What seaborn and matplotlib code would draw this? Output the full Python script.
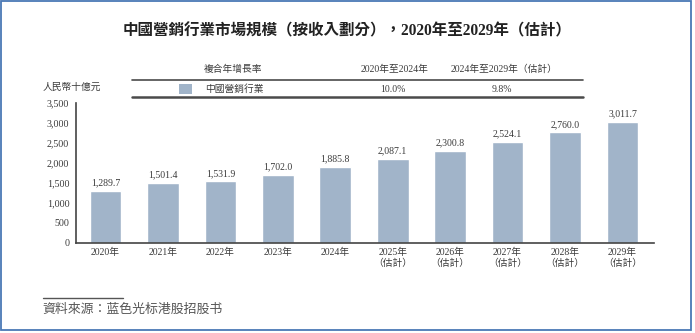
import matplotlib
matplotlib.use("Agg")
import matplotlib.pyplot as plt
import matplotlib.patches as mpatches
import seaborn as sns
import pandas as pd
from matplotlib.ticker import FuncFormatter

# ---- data ----
years = ["2020年", "2021年", "2022年", "2023年", "2024年",
         "2025年\n（估計）", "2026年\n（估計）", "2027年\n（估計）",
         "2028年\n（估計）", "2029年\n（估計）"]
values = [1289.7, 1501.4, 1531.9, 1702.0, 1885.8,
          2087.1, 2300.8, 2524.1, 2760.0, 3011.7]
value_labels = ["1,289.7", "1,501.4", "1,531.9", "1,702.0", "1,885.8",
                "2,087.1", "2,300.8", "2,524.1", "2,760.0", "3,011.7"]
yticks = [0, 500, 1000, 1500, 2000, 2500, 3000, 3500]
title = "中國營銷行業市場規模（按收入劃分），2020年至2029年（估計）"
unit_label = "人民幣十億元"
table_header = ["複合年增長率", "2020年至2024年", "2024年至2029年（估計）"]
series_name = "中國營銷行業"
cagr_values = ["10.0%", "9.8%"]
source_text = "資料來源：蓝色光标港股招股书"

bar_color = "#a1b4c9"
text_color = "#3a3a3a"

sns.set_theme(style="white")
plt.rcParams["font.family"] = ["Liberation Serif", "Noto Sans CJK TC", "DejaVu Sans"]

W, H = 695, 333
fig = plt.figure(figsize=(W / 100, H / 100), dpi=100)
fig.patch.set_facecolor("white")

def fx(px):
    return px / W

def fy(py):
    return 1 - py / H

ax_left, ax_right, ax_bottom, ax_top = 75.5, 654, 242.5, 102.7
ax = fig.add_axes([fx(ax_left), fy(ax_bottom), fx(ax_right - ax_left), (ax_bottom - ax_top) / H])

df = pd.DataFrame({"year": years, "value": values})
sns.barplot(data=df, x="year", y="value", color=bar_color, width=0.55,
            saturation=1, ax=ax)

for i, (v, lab) in enumerate(zip(values, value_labels)):
    ax.annotate(lab, (i, v), xytext=(0, 2.5), textcoords="offset points",
                ha="center", va="bottom", fontsize=7, color=text_color)

ax.set_xlim(-0.522, 9.548)
ax.set_ylim(0, 3500)
ax.set_yticks(yticks)
ax.yaxis.set_major_formatter(FuncFormatter(lambda v, p: f"{int(v):,}"))
ax.set_xlabel("")
ax.set_ylabel("")
for s in ["top", "right"]:
    ax.spines[s].set_visible(False)
for s in ["left", "bottom"]:
    ax.spines[s].set_color("#444444")
    ax.spines[s].set_linewidth(1.2)
ax.tick_params(axis="y", which="major", direction="out", length=2.5, width=1,
               color="#444444", labelsize=7.2, labelcolor=text_color, pad=2)
ax.tick_params(axis="x", which="major", length=0, labelsize=7,
               labelcolor=text_color, pad=4)
for t in ax.get_xticklabels():
    t.set_linespacing(1.1)

# ---- title ----
fig.text(fx(347.5), fy(31.7), title, ha="center", va="center",
         fontsize=11.2, fontweight="bold", color="#222222")

# ---- unit label ----
fig.text(fx(43), fy(87), unit_label, ha="left", va="center",
         fontsize=7, color=text_color)

# ---- CAGR table ----
fig.text(fx(204), fy(69), table_header[0], ha="left", va="center", fontsize=7, color=text_color)
fig.text(fx(395), fy(69), table_header[1], ha="center", va="center", fontsize=7, color=text_color)
fig.text(fx(504), fy(69), table_header[2], ha="center", va="center", fontsize=7, color=text_color)
fig.add_artist(plt.Line2D([fx(131.5), fx(583)], [fy(80), fy(80)], color="#4a4a4a", lw=1.2))
fig.add_artist(plt.Line2D([fx(131.5), fx(583)], [fy(96.7), fy(96.7)], color="#4a4a4a", lw=1.8))
fig.add_artist(mpatches.Rectangle((fx(179.3), fy(94.3)), fx(13), 10 / H,
                                  facecolor=bar_color, edgecolor="none"))
fig.text(fx(205), fy(89), series_name, ha="left", va="center", fontsize=7, color=text_color)
fig.text(fx(392.5), fy(89), cagr_values[0], ha="center", va="center", fontsize=7, color=text_color)
fig.text(fx(501.7), fy(89), cagr_values[1], ha="center", va="center", fontsize=7, color=text_color)

# ---- source ----
fig.add_artist(plt.Line2D([fx(42.7), fx(123)], [fy(298.3), fy(298.3)], color="#555555", lw=1.0))
fig.text(fx(42.7), fy(310), source_text, ha="left", va="center", fontsize=9.3,
         color="#555555", style="italic")

# ---- frame ----
fig.add_artist(mpatches.Rectangle((fx(1.2), fy(329.5)), fx(691.3 - 1.2), (329.5 - 1.2) / H,
                                  facecolor="none", edgecolor="#4a78b5", lw=1.3))

fig.savefig("out.png", dpi=100, facecolor="white")
